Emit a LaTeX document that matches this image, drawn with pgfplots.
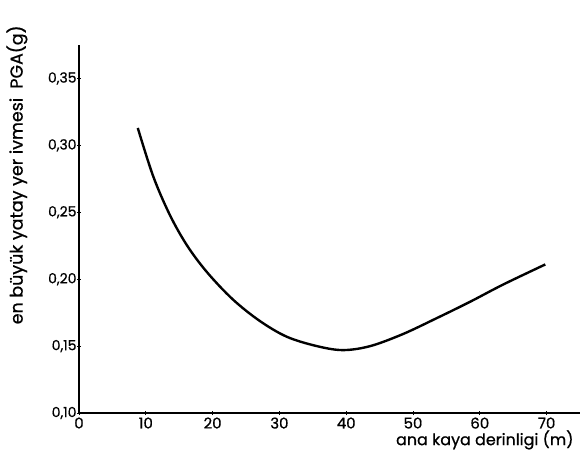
\documentclass[border=0pt]{standalone}
\usepackage{pgfplots}
\pgfplotsset{compat=1.18}
\usepackage{fontspec}
\setmainfont{Poppins}[FakeBold=0.8]
\begin{document}
\begin{tikzpicture}
\path[use as bounding box] (0,0) rectangle (580bp,467bp);
\begin{axis}[
  at={(79bp,54bp)}, anchor=south west,
  scale only axis, width=501bp, height=368bp,
  xmin=0, xmax=75, ymin=0.10, ymax=0.375,
  axis lines=left, axis line style={-, line width=1.6pt, black},
  xtick={0,10,20,30,40,50,60,70},
  ytick={0.10,0.15,0.20,0.25,0.30,0.35},
  yticklabels={{0,10},{0,15},{0,20},{0,25},{0,30},{0,35}},
  tick align=center, major tick length=4bp,
  tick style={black, line width=0.9pt},
  xticklabel style={font=\fontsize{15}{17}\selectfont, yshift=1bp},
  yticklabel style={font=\fontsize{14}{16}\selectfont, xshift=3bp},
  /pgf/number format/assume math mode=true,
  xlabel={ana kaya derinligi (m)},
  xlabel style={at={(axis description cs:0.81,-0.073)}, anchor=center, font=\fontsize{16}{18}\selectfont},
  ylabel={en büyük yatay yer ivmesi\ \ PGA(g)},
  ylabel style={at={(axis description cs:-0.124,0.647)}, anchor=center, rotate=0, font=\fontsize{17.5}{19}\selectfont},
  clip=false,
]
\addplot[black, line width=2.4pt, smooth, tension=0.55] coordinates {
(8.8,0.313) (11.1,0.277) (13.6,0.248) (16.2,0.225) (19.2,0.205) (23.0,0.185)
(27.0,0.169) (31.1,0.157) (35.6,0.150) (39.5,0.147) (43.6,0.150) (48.5,0.159)
(53.6,0.171) (58.5,0.183) (63.5,0.196) (69.8,0.211)
};
\end{axis}
\end{tikzpicture}
\end{document}
